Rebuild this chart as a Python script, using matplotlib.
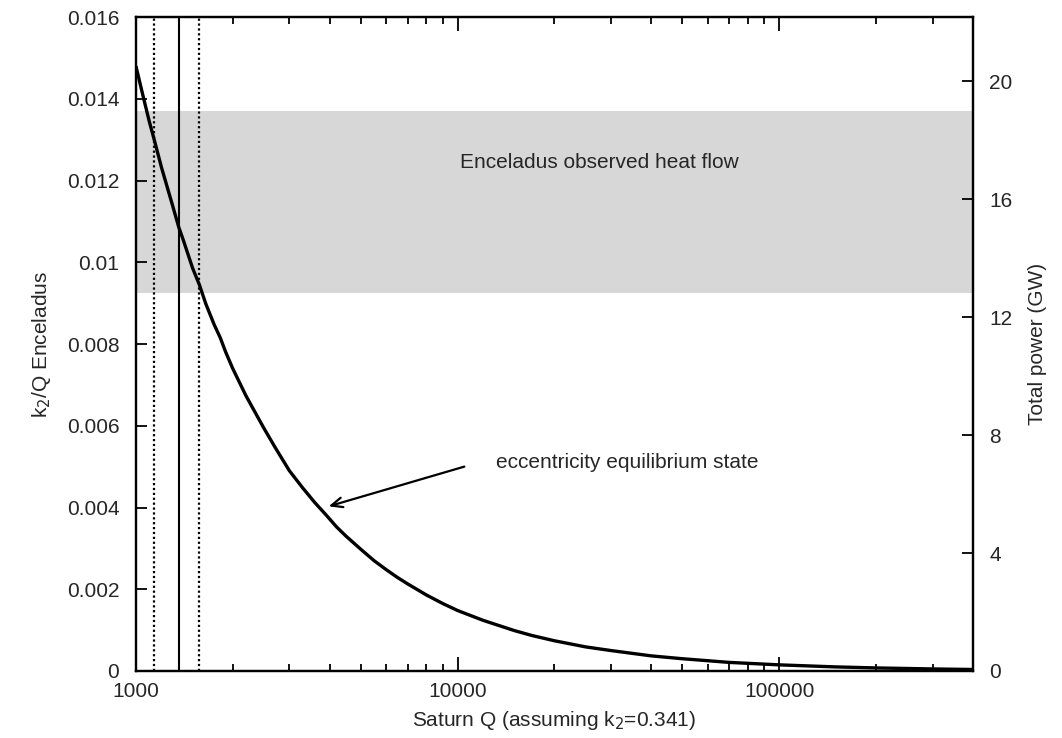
import matplotlib
matplotlib.use("Agg")
import matplotlib.pyplot as plt
from matplotlib.ticker import FixedLocator, FuncFormatter, NullFormatter

plt.rcParams['font.family'] = ['Liberation Sans', 'DejaVu Sans']

# Saturn Q and the Enceladus k2/Q of the eccentricity equilibrium state
saturn_q = [1000, 1050, 1100, 1140, 1200, 1250, 1300, 1360, 1400, 1450, 1500,
            1575, 1650, 1750, 1830, 1900, 2000, 2200, 2500, 2700, 3000, 3300,
            3600, 3920, 4200, 4500, 5000, 5500, 6000, 6500, 7000, 8000, 9000,
            10000, 12000, 15000, 17000, 20000, 25000, 30000, 40000, 50000,
            70000, 100000, 150000, 200000, 300000, 400000]
k2_over_q = [0.0148, 0.01410, 0.01345, 0.0130, 0.01233, 0.01185, 0.01139,
             0.01085, 0.01057, 0.01021, 0.00986, 0.00945, 0.00898, 0.00848,
             0.00815, 0.00781, 0.0074, 0.00673, 0.00594, 0.00549, 0.0049,
             0.00448, 0.00412, 0.0038, 0.00353, 0.0033, 0.00298, 0.00270,
             0.00248, 0.00229, 0.00213, 0.00186, 0.00165, 0.00148, 0.00124,
             0.00099, 0.00087, 0.00074, 0.00059, 0.0005, 0.00037, 0.0003,
             0.00021, 0.00015, 0.0001, 0.000075, 0.00005, 0.000037]

# Saturn Q estimate with its lower/upper bounds
q_best = 1360
q_bounds = [1140, 1575]

# Observed heat flow range (GW)
heat_flow_gw = (12.8, 19.0)

x_limits = (1000, 400000)
left_ylim = (0, 0.016)
right_ylim = (0, 22.17)
left_ticks = [0, 0.002, 0.004, 0.006, 0.008, 0.01, 0.012, 0.014, 0.016]
right_ticks = [0, 4, 8, 12, 16, 20]
x_major = [1000, 10000, 100000]

gw_per_unit = right_ylim[1] / left_ylim[1]
text_color = '#262626'

fig = plt.figure(figsize=(10.62, 7.38), dpi=100)
ax = fig.add_axes([0.128, 0.0908, 0.788, 0.886])
ax2 = ax.twinx()

ax.set_xscale('log')
ax.set_xlim(*x_limits)
ax.set_ylim(*left_ylim)
ax2.set_ylim(*right_ylim)

# shaded heat-flow band, expressed in left-axis units
ax.axhspan(heat_flow_gw[0] / gw_per_unit, heat_flow_gw[1] / gw_per_unit,
           color='#d7d7d7', lw=0, zorder=0)
ax.text(27700, 0.01245, 'Enceladus observed heat flow', fontsize=15,
        color=text_color, ha='center', va='center')

ax.axvline(q_best, color='black', lw=1.5, zorder=2)
for q in q_bounds:
    ax.axvline(q, color='black', lw=1.6, ls=(0, (1, 1.2)), zorder=2)

ax.plot(saturn_q, k2_over_q, color='black', lw=2.4, zorder=3,
        solid_capstyle='butt', solid_joinstyle='round')

ax.annotate('', xy=(3900, 0.00401), xytext=(10700, 0.00502),
            arrowprops=dict(arrowstyle='->,head_length=0.8,head_width=0.35',
                            lw=1.6, color='black'))
ax.text(13130, 0.00509, 'eccentricity equilibrium state', fontsize=15,
        color=text_color, ha='left', va='center')

# x axis ticks
ax.xaxis.set_major_locator(FixedLocator(x_major))
ax.xaxis.set_major_formatter(FuncFormatter(lambda v, p: '%d' % v))
minor = [m * 10 ** e for e in range(3, 6) for m in range(2, 10)
         if m * 10 ** e <= x_limits[1]]
ax.xaxis.set_minor_locator(FixedLocator(minor))
ax.xaxis.set_minor_formatter(NullFormatter())

ax.yaxis.set_major_locator(FixedLocator(left_ticks))
ax.yaxis.set_major_formatter(FuncFormatter(lambda v, p: '%g' % v))
ax2.yaxis.set_major_locator(FixedLocator(right_ticks))
ax2.yaxis.set_major_formatter(FuncFormatter(lambda v, p: '%g' % v))

ax.tick_params(axis='x', which='major', direction='in', length=10, width=1.3,
               top=True, bottom=True, labelsize=15, labelcolor=text_color,
               pad=8)
ax.tick_params(axis='x', which='minor', direction='in', length=5, width=1.3,
               top=True, bottom=True)
ax.tick_params(axis='y', direction='in', length=8, width=1.3, left=True,
               right=False, labelsize=15, labelcolor=text_color, pad=12)
ax2.tick_params(axis='y', direction='in', length=8, width=1.3, right=True,
                left=False, labelsize=15, labelcolor=text_color, pad=12)

for a in (ax, ax2):
    for s in a.spines.values():
        s.set_linewidth(1.6)

ax.set_xlabel('Saturn Q (assuming k$_2$=0.341)', fontsize=15,
              color=text_color, labelpad=6)
ax.set_ylabel('k$_2$/Q Enceladus', fontsize=15, color=text_color, labelpad=10)
ax2.set_ylabel('Total power (GW)', fontsize=15, color=text_color, labelpad=11)

fig.savefig('out.png', dpi=100, facecolor='white')
